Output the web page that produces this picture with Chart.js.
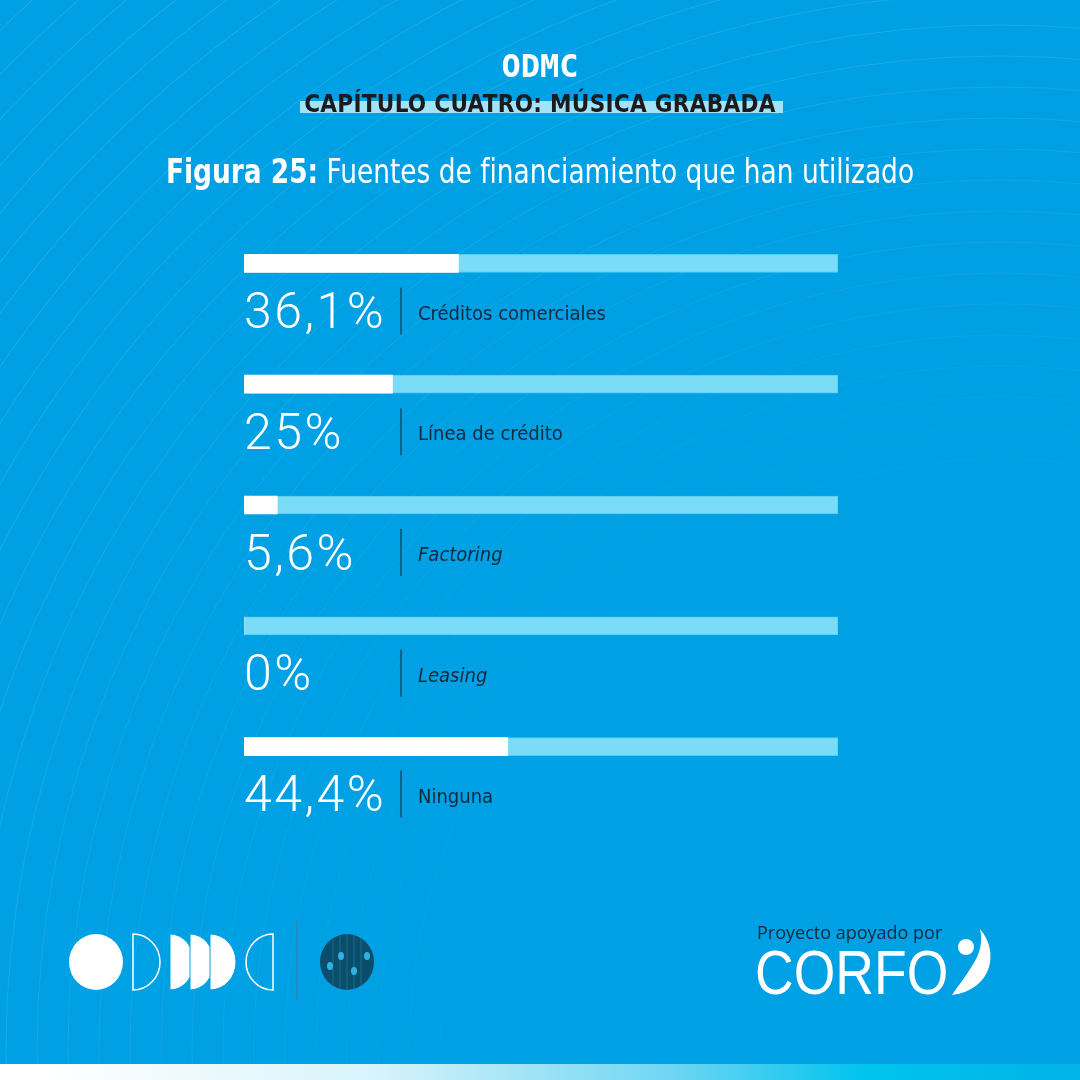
<!DOCTYPE html>
<html lang="es">
<head>
<meta charset="utf-8">
<title>Figura 25</title>
<script src="https://cdn.jsdelivr.net/npm/chart.js@4.4.1/dist/chart.umd.min.js"></script>
<style>
  html, body { margin: 0; padding: 0; }
  body {
    width: 1080px; height: 1080px; position: relative; overflow: hidden;
    background: #00a0e4;
    font-family: "DejaVu Sans Condensed", sans-serif;
  }
  #wrap { position: absolute; left: 0; top: 0; width: 1080px; height: 1080px; }
  .line { position: absolute; left: 0; width: 1080px; text-align: center; white-space: nowrap; }
  #odmc { top: 50px; font: bold 32px/32px "DejaVu Sans Mono", monospace; color: #fff; }
  #mark { position: absolute; left: 300px; top: 101px; width: 483px; height: 12px; background: #a2e3f7; }
  #chapter { top: 92px; font: bold 24px/24px "DejaVu Sans Condensed", sans-serif; color: #1b1b1f; letter-spacing: 0.3px; }
  #title { top: 154px; font-size: 34px; line-height: 34px; color: #fff; transform: scaleX(0.864); transform-origin: 540px 0; }
  #title b { font-weight: bold; }
  #support { position: absolute; left: 757px; top: 922px; font: 18px/20px "Open Sans", sans-serif; color: #17293a; }
  #corfo { position: absolute; left: 755px; top: 941px; font: 63px/63px "Liberation Sans", sans-serif; color: #fff;
    transform: scaleX(0.85); transform-origin: 0 0; }
  #strip { position: absolute; left: 0; top: 1064px; width: 1080px; height: 16px;
    background: linear-gradient(90deg, #ffffff 4%, #d6f3fb 35%, #6fd6f3 62%, #00c4ee 80%, #00b2e8 100%); }
  svg { position: absolute; left: 0; top: 0; }
</style>
</head>
<body>
<div id="wrap"><canvas id="bars" width="1080" height="1080"></canvas></div>

<div id="odmc" class="line">ODMC</div>
<div id="mark"></div>
<div id="chapter" class="line">CAPÍTULO CUATRO: MÚSICA GRABADA</div>
<div id="title" class="line"><b>Figura 25:</b> Fuentes de financiamiento que han utilizado</div>

<svg width="1080" height="1080" viewBox="0 0 1080 1080">
  <!-- ODMC logo -->
  <ellipse cx="96" cy="962" rx="27" ry="28" fill="#fff"/>
  <path d="M133 934 L133 990 A27 28 0 0 0 133 934 Z" fill="none" stroke="#fff" stroke-width="1.5"/>
  <path d="M170 934 L170 990 A24 28 0 0 0 170 934 Z" fill="#fff" stroke="#00a0e4" stroke-width="1"/>
  <path d="M190 934 L190 990 A24 28 0 0 0 190 934 Z" fill="#fff" stroke="#00a0e4" stroke-width="1"/>
  <path d="M210 934 L210 990 A26 28 0 0 0 210 934 Z" fill="#fff" stroke="#00a0e4" stroke-width="1"/>
  <path d="M273 934 L273 990 A27 28 0 0 1 273 934 Z" fill="none" stroke="#fff" stroke-width="1.5"/>
  <line x1="297" y1="920" x2="297" y2="1000" stroke="#2d86bd" stroke-width="1.5"/>
  <ellipse cx="347" cy="962" rx="27" ry="28" fill="#0a4e6c"/>
  <g stroke="#1d6a8c" stroke-width="1">
    <line x1="333" y1="938" x2="333" y2="986"/><line x1="340" y1="935" x2="340" y2="989"/>
    <line x1="347" y1="934" x2="347" y2="990"/><line x1="354" y1="935" x2="354" y2="989"/>
    <line x1="361" y1="938" x2="361" y2="986"/>
  </g>
  <g fill="#2eb2e6">
    <ellipse cx="330" cy="966" rx="3" ry="4"/><ellipse cx="341" cy="956" rx="3" ry="4"/>
    <ellipse cx="354" cy="971" rx="3" ry="4"/><ellipse cx="367" cy="956" rx="3" ry="4"/>
  </g>
  <!-- CORFO figure -->
  <circle cx="966" cy="947" r="8" fill="#fff"/>
  <path d="M980 929 C1000 952 992 990 952 995 C958 986 966 976 972 966 C980 954 983 942 980 929 Z" fill="#fff"/>
</svg>

<div id="support">Proyecto apoyado por</div>
<div id="corfo">CORFO</div>
<div id="strip"></div>

<script>
// chart data
const categories = ['Créditos comerciales', 'Línea de crédito', 'Factoring', 'Leasing', 'Ninguna'];
const shares = [36.1, 25, 5.6, 0, 44.4];
const scaleMax = 100;

// foreign words set in italic, like the original
const italicNames = ['Factoring', 'Leasing'];

const fmtPct = v => String(v).replace('.', ',') + '%';

// faint concentric arcs behind everything
const backdrop = {
  id: 'backdrop',
  beforeDraw(chart) {
    const ctx = chart.ctx;
    ctx.save();
    ctx.lineWidth = 1;
    for (let r = 560; r < 1700; r += 31) {
      const a = Math.min(0.15, 0.02 + 0.13 * (r - 560) / 700);
      ctx.strokeStyle = 'rgba(255,255,255,' + a + ')';
      ctx.beginPath();
      ctx.arc(1000, 1050, r, 0, Math.PI * 2);
      ctx.stroke();
    }
    ctx.restore();
  }
};

// value + category under each bar
const rowLabels = {
  id: 'rowLabels',
  afterDatasetsDraw(chart) {
    const ctx = chart.ctx;
    const left = chart.chartArea.left;
    chart.getDatasetMeta(0).data.forEach((bar, i) => {
      const y = bar.y + 52;
      ctx.save();
      ctx.textBaseline = 'middle';
      ctx.fillStyle = '#ffffff';
      ctx.font = '300 50px Roboto, sans-serif';
      ctx.letterSpacing = '2.5px';
      ctx.fillText(fmtPct(shares[i]), left, y);
      ctx.letterSpacing = '0px';

      ctx.strokeStyle = '#0b5f90';
      ctx.lineWidth = 2;
      ctx.beginPath();
      ctx.moveTo(left + 157, y - 28);
      ctx.lineTo(left + 157, y + 19);
      ctx.stroke();

      ctx.fillStyle = '#13293b';
      const it = italicNames.includes(categories[i]) ? 'italic ' : '';
      ctx.font = it + '20px "DejaVu Sans Condensed", sans-serif';
      ctx.fillText(categories[i], left + 174, y - 1);
      ctx.restore();
    });
  }
};

new Chart(document.getElementById('bars'), {
  type: 'bar',
  data: {
    labels: categories,
    datasets: [{
      label: 'Porcentaje',
      data: shares,
      backgroundColor: '#ffffff',
      borderWidth: 0,
      barThickness: 18,
      grouped: false,
      order: 0
    }, {
      label: 'Total',
      data: categories.map(() => scaleMax),
      backgroundColor: '#7adcf6',
      borderColor: '#4fcff2',
      borderWidth: 1,
      borderSkipped: false,
      barThickness: 18,
      grouped: false,
      order: 1
    }]
  },
  options: {
    indexAxis: 'y',
    responsive: false,
    animation: false,
    layout: { padding: { left: 244, right: 242, top: 203, bottom: 273 } },
    scales: {
      x: { min: 0, max: scaleMax, display: false },
      y: { display: false }
    },
    plugins: {
      legend: { display: false },
      tooltip: { enabled: false }
    }
  },
  plugins: [backdrop, rowLabels]
});
</script>
</body>
</html>
